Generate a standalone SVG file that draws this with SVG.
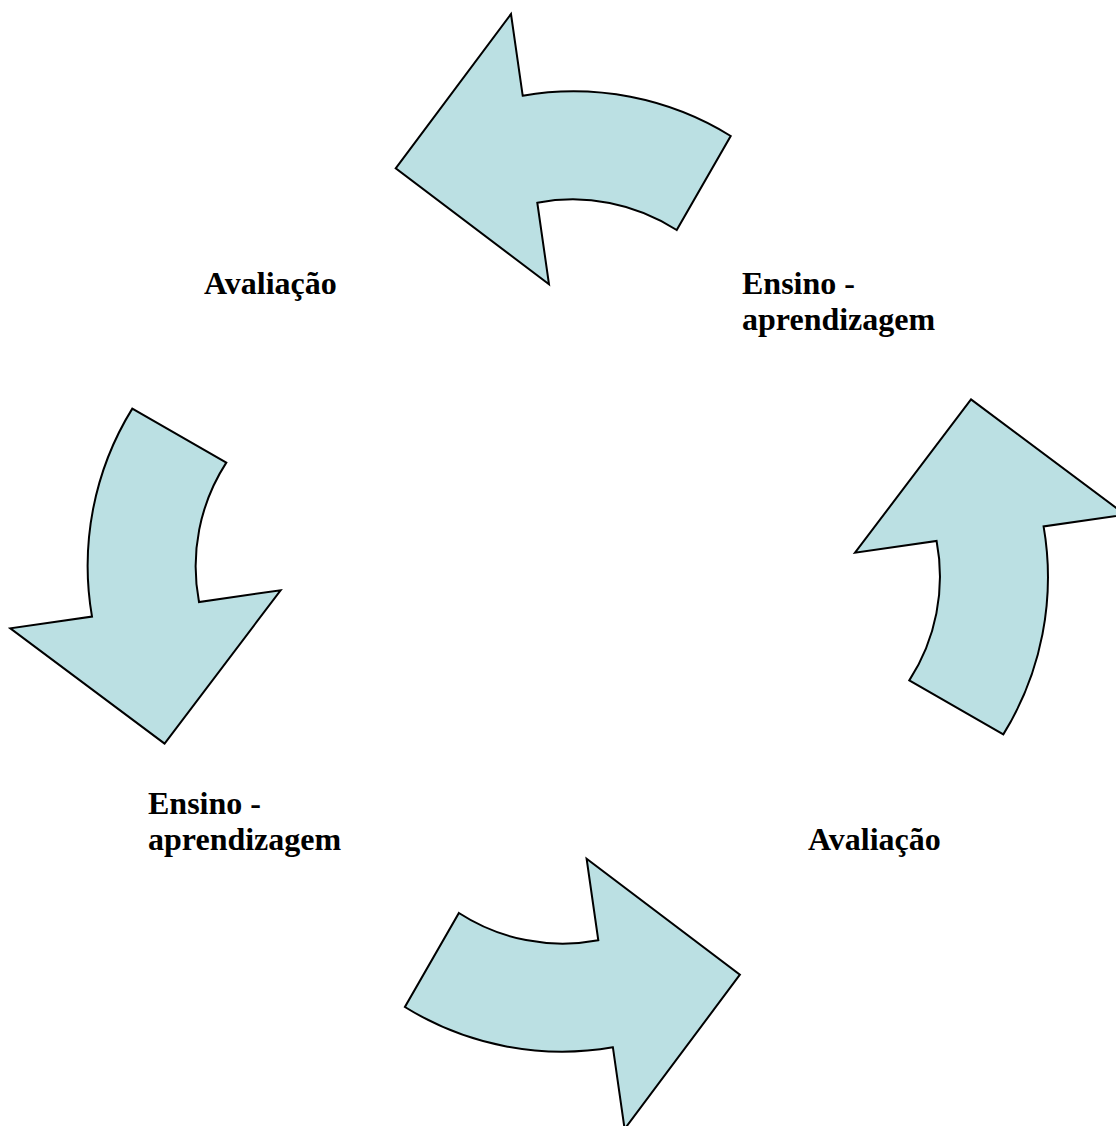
<svg xmlns="http://www.w3.org/2000/svg" width="1116" height="1126" viewBox="0 0 1116 1126">
<style>
.arrow{fill:#bbe0e3;stroke:#000;stroke-width:2;stroke-linejoin:miter}
.lbl{font-family:"Liberation Serif","Times New Roman",serif;font-weight:bold;font-size:32px;fill:#000}
</style>
<defs>
<path id="arr" d="M395.7,168.3 L511,14 L522.7,95.7 A299,299 0 0 1 730.7,136 L676.7,230 A191,191 0 0 0 537.3,202.7 L549,284.3 Z"/>
</defs>
<rect width="1116" height="1126" fill="#fff"/>
<g id="connectors">
<use id="arrow-top" href="#arr" class="arrow"/>
<use id="arrow-right" href="#arr" class="arrow" transform="rotate(90 567.8 571.5)"/>
<use id="arrow-bottom" href="#arr" class="arrow" transform="rotate(180 567.8 571.5)"/>
<use id="arrow-left" href="#arr" class="arrow" transform="rotate(270 567.8 571.5)"/>
</g>
<g id="node-avaliacao-top"><text class="lbl" x="204" y="294">Avaliação</text></g>
<g id="node-ensino-top"><text class="lbl" x="742" y="294">Ensino -</text><text class="lbl" x="742" y="330">aprendizagem</text></g>
<g id="node-ensino-bottom"><text class="lbl" x="148" y="814">Ensino -</text><text class="lbl" x="148" y="850">aprendizagem</text></g>
<g id="node-avaliacao-bottom"><text class="lbl" x="808" y="850">Avaliação</text></g>
</svg>
